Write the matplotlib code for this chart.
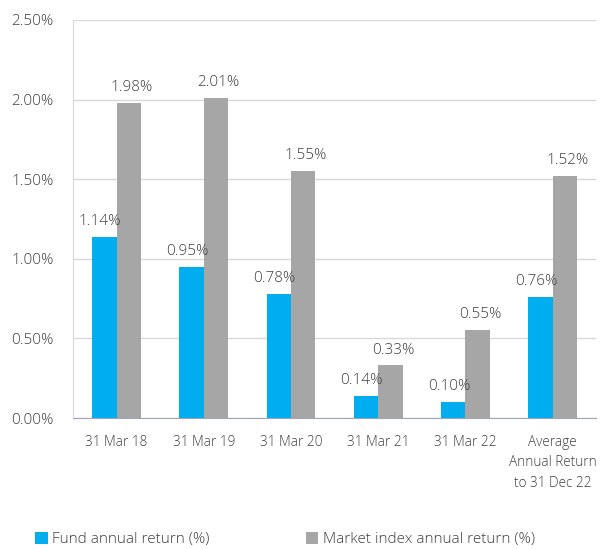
import numpy as np
import matplotlib.pyplot as plt
from matplotlib.ticker import FuncFormatter

categories = ['31 Mar 18', '31 Mar 19', '31 Mar 20', '31 Mar 21', '31 Mar 22',
              'Average\nAnnual Return\nto 31 Dec 22']
fund = [1.14, 0.95, 0.78, 0.14, 0.10, 0.76]
market = [1.98, 2.01, 1.55, 0.33, 0.55, 1.52]
fund_labels = ['1.14%', '0.95%', '0.78%', '0.14%', '0.10%', '0.76%']
market_labels = ['1.98%', '2.01%', '1.55%', '0.33%', '0.55%', '1.52%']

plt.rcParams['font.family'] = ['Open Sans', 'DejaVu Sans']
plt.rcParams['font.weight'] = 300
txt = '#404040'
fs = 11

fig = plt.figure(figsize=(6.04, 5.49), dpi=100)
ax = fig.add_axes([0.121, 0.2386, 0.866, 0.725])

x = np.arange(len(categories))
w = 0.28
b1 = ax.bar(x - w / 2, fund, w, color='#00AEEF', label='Fund annual return (%)', zorder=3)
b2 = ax.bar(x + w / 2, market, w, color='#A6A6A6', label='Market index annual return (%)', zorder=3)

for rect, lab in zip(b1, fund_labels):
    ax.text(rect.get_x() + rect.get_width() / 2 - 0.05, rect.get_height() + 0.05, lab,
            ha='center', va='bottom', fontsize=fs, color=txt)
for rect, lab in zip(b2, market_labels):
    ax.text(rect.get_x() + rect.get_width() / 2 + 0.03, rect.get_height() + 0.05, lab,
            ha='center', va='bottom', fontsize=fs, color=txt)

ax.set_xlim(-0.5, len(categories) - 0.5)
ax.set_ylim(0, 2.5)
ax.set_yticks(np.arange(0, 2.51, 0.5))
ax.yaxis.set_major_formatter(FuncFormatter(lambda v, p: f'{v:.2f}%'))
ax.set_xticks(x)
ax.set_xticklabels(categories, fontsize=9.8, color=txt, linespacing=1.5)
ax.tick_params(axis='y', labelsize=fs, labelcolor=txt, length=0, pad=14)
ax.tick_params(axis='x', length=0, pad=12)

ax.grid(axis='y', color='#D9D9D9', linewidth=1, zorder=0)
for s in ['top', 'right']:
    ax.spines[s].set_visible(False)
ax.spines['left'].set_color('#D9D9D9')
ax.spines['bottom'].set_color('#A0A4B8')

fig.legend(handles=[b1, b2], loc='lower center', bbox_to_anchor=(0.472, -0.012), ncol=2,
           frameon=False, fontsize=fs, handlelength=0.8, handleheight=0.8,
           handletextpad=0.3, columnspacing=6.3, labelcolor=txt, borderpad=0.05)

fig.savefig('out.png', dpi=100)
